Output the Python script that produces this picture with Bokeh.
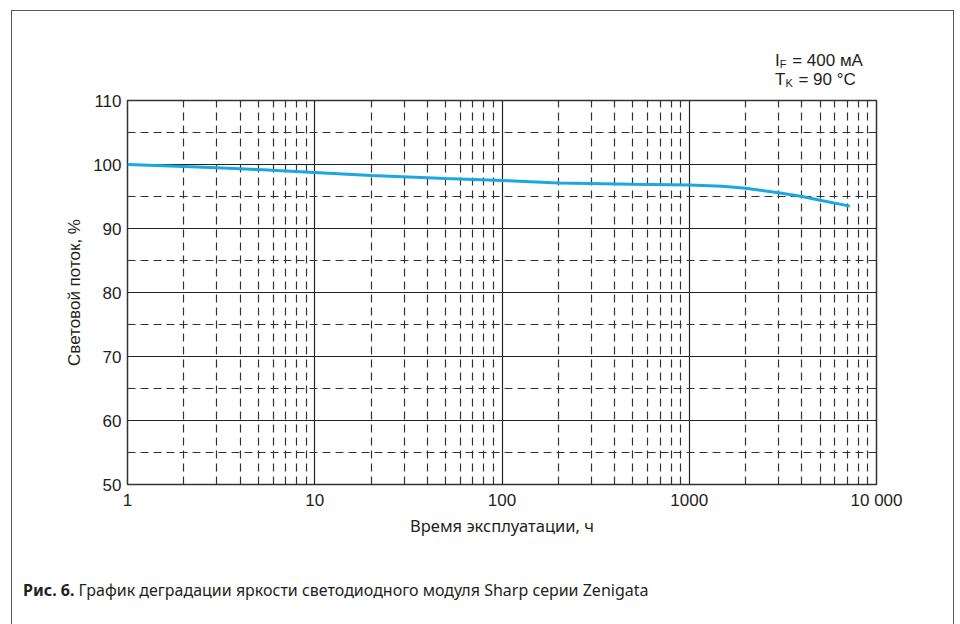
from bokeh.plotting import figure
from bokeh.models import FixedTicker, Grid, Range1d, Div
from bokeh.layouts import column
from bokeh.embed import file_html
from bokeh.resources import INLINE

# ---- data ----
hours = [1, 2, 3, 5, 10, 20, 50, 100, 200, 500, 1000, 1500, 2000, 3000, 4000, 5000, 7200]
flux = [100.0, 99.7, 99.5, 99.2, 98.75, 98.3, 97.8, 97.5, 97.1, 96.9, 96.8, 96.6, 96.3, 95.6, 95.0, 94.4, 93.5]

x_major = [1, 10, 100, 1000, 10000]
x_major_labels = ["1", "10", "100", "1000", "10 000"]
x_minor = [m * d for d in [1, 10, 100, 1000] for m in range(2, 10)]
y_major = [50, 60, 70, 80, 90, 100, 110]
y_minor = [55, 65, 75, 85, 95, 105]

x_title = "Время эксплуатации, ч"
y_title = "Световой поток, %"
caption_bold = "Рис. 6."
caption_text = "График деградации яркости светодиодного модуля Sharp серии Zenigata"
cond_I, cond_I_sub, cond_I_val = "I", "F", "= 400 мА"
cond_T, cond_T_sub, cond_T_val = "T", "K", "= 90 °C"

SANS = "Liberation Sans"
HUMAN = "Noto Sans"
TEXT_COLOR = "#231f20"
W = 941

p = figure(width=W, height=456, x_axis_type="log",
           x_range=Range1d(1, 10000), y_range=Range1d(50, 110),
           output_backend="svg", toolbar_location=None,
           min_border_left=115, min_border_right=77,
           min_border_top=12, min_border_bottom=60)
p.background_fill_color = "white"
p.border_fill_color = "white"
p.outline_line_color = "#333333"
p.outline_line_width = 1.5

# axes
p.xaxis.ticker = FixedTicker(ticks=x_major)
p.xaxis.major_label_overrides = {v: s for v, s in zip(x_major, x_major_labels)}
p.yaxis.ticker = FixedTicker(ticks=y_major)
for ax in (p.xaxis[0], p.yaxis[0]):
    ax.axis_line_color = None
    ax.major_tick_line_color = None
    ax.minor_tick_line_color = None
    ax.major_tick_in = 0
    ax.major_tick_out = 0
    ax.minor_tick_in = 0
    ax.minor_tick_out = 0
    ax.major_label_text_font = SANS
    ax.major_label_text_font_size = "17px"
    ax.major_label_text_color = TEXT_COLOR
    ax.axis_label_text_font_style = "normal"
    ax.axis_label_text_color = TEXT_COLOR
p.xaxis.major_label_standoff = 6
p.yaxis.major_label_standoff = 6
p.xaxis.axis_label = x_title
p.yaxis.axis_label = y_title
p.xaxis.axis_label_text_font = HUMAN
p.xaxis.axis_label_text_font_size = "16.5px"
p.yaxis.axis_label_text_font = SANS
p.yaxis.axis_label_text_font_size = "17px"
p.xaxis.axis_label_standoff = 1
p.yaxis.axis_label_standoff = 6

# grids
p.xgrid.ticker = FixedTicker(ticks=x_major)
p.ygrid.ticker = FixedTicker(ticks=y_major)
for g in (p.xgrid[0], p.ygrid[0]):
    g.grid_line_color = "#222222"
    g.grid_line_width = 1.2
    g.grid_line_alpha = 1.0
p.add_layout(Grid(dimension=0, ticker=FixedTicker(ticks=x_minor),
                  grid_line_color="#333333", grid_line_width=1.2, grid_line_dash="8 5"))
p.add_layout(Grid(dimension=1, ticker=FixedTicker(ticks=y_minor),
                  grid_line_color="#333333", grid_line_width=1.2, grid_line_dash="8 5"))

# curve
p.line(hours, flux, line_color="#1ba8e0", line_width=3)

# conditions block above the plot
sub = 'style="font-size:11px; line-height:0; vertical-align:-2px; padding-right:1px"'
cond_html = (
    f'<div style="padding-left:763px; padding-top:40px; font-family:\'{SANS}\'; '
    f'font-size:17px; line-height:19px; color:{TEXT_COLOR}; white-space:nowrap">'
    f'{cond_I}<span {sub}>{cond_I_sub}</span> {cond_I_val}<br>'
    f'{cond_T}<span {sub}>{cond_T_sub}</span> {cond_T_val}</div>'
)
top_div = Div(text=cond_html, width=W, height=77, margin=0)

cap_html = (
    f'<div style="padding-left:11px; padding-top:36px; font-family:\'{HUMAN}\'; '
    f'font-size:16px; line-height:20px; color:{TEXT_COLOR}; white-space:nowrap">'
    f'<b>{caption_bold}</b> {caption_text}</div>'
)
cap_div = Div(text=cap_html, width=W, height=80, margin=0)

layout = column(top_div, p, cap_div, spacing=0)
layout.styles = {"margin-left": "11px", "margin-top": "10px",
                 "border-top": "1px solid #555", "border-left": "1px solid #555",
                 "border-right": "1px solid #555"}

with open("out.html", "w") as f:
    f.write(file_html(layout, INLINE))
